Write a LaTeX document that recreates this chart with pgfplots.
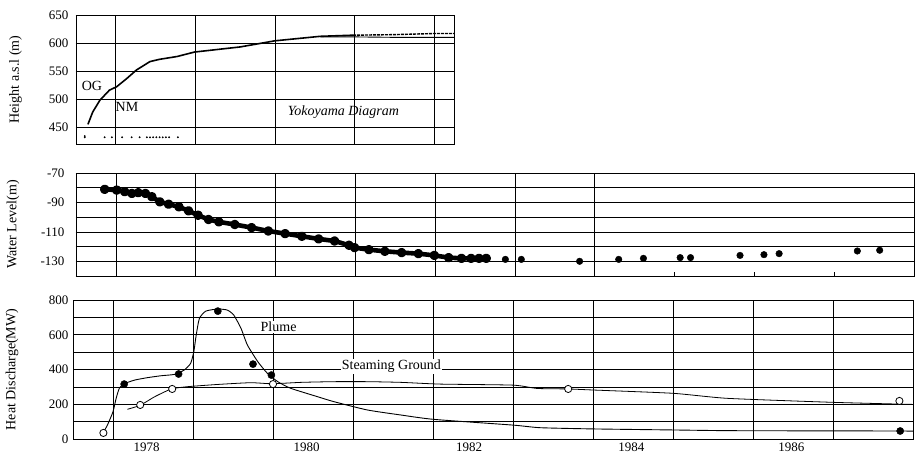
\documentclass[border=0pt]{standalone}
\usepackage{fontspec}
\setmainfont{Liberation Serif}
\usepackage{pgfplots}
\pgfplotsset{compat=1.18}

\pgfplotsset{
  myax/.style={
    scale only axis,
    anchor=north west,
    axis line style={line width=0.9pt},
    grid style={black, line width=0.6pt},
    minor grid style={black, line width=0.6pt},
    xtick pos=bottom, ytick pos=left,
    tick style={black, line width=0.6pt},
    minor x tick num=11,
    minor tick length=3pt,
    major tick length=4pt,
    tick label style={font=\fontsize{13}{15}\selectfont},
    /pgf/number format/assume math mode=true,
  },
  ylab/.style={every axis y label/.style={at={(axis description cs:#1,0.5)}, rotate=90, anchor=center, font=\fontsize{14}{16}\selectfont}},
}

\begin{document}
\begin{tikzpicture}
\useasboundingbox (0pt,0pt) rectangle (916pt,-459pt);

% ---------------- Top panel ----------------
\begin{axis}[myax, at={(76pt,-15pt)}, width=378pt, height=129pt,
  xmin=1977.5, xmax=1982.25, ymin=420, ymax=650,
  xtick={1978,...,1982}, xticklabels={},
  ytick={450,500,...,650},
  yticklabel style={xshift=-4pt},
  xmajorgrids, ymajorgrids,
  ylabel={Height a.s.l (m)}, ylab=-0.16,
]
% OG (upper, dashed at right)
\addplot[black, line width=1.6pt] coordinates {
(1977.65,455) (1977.71,477) (1977.80,498) (1977.92,516) (1978.01,522)
(1978.14,537) (1978.26,552) (1978.43,567) (1978.55,571) (1978.77,576)
(1978.99,584) (1979.56,593) (1980.00,604) (1980.57,612) (1980.98,614)};
\addplot[black, line width=1.4pt, dash pattern=on 3pt off 1pt] coordinates {
(1980.98,614) (1981.5,615) (1982.0,617) (1982.25,617)};
% NM (lower)
\addplot[black, line width=0.9pt] coordinates {
(1980.57,611) (1980.98,611) (1981.6,610) (1982.0,610) (1982.25,610)};
% sparse dots near bottom
\addplot[only marks, mark=*, mark size=0.7pt, black] coordinates {
(1977.61,432) (1977.61,434) (1977.86,432) (1977.95,432) (1978.08,432) (1978.20,432)
(1978.30,432) (1978.39,432) (1978.43,432) (1978.47,432) (1978.51,432) (1978.55,432)
(1978.59,432) (1978.63,432) (1978.67,432) (1978.78,432)};
\node[font=\fontsize{14}{16}\selectfont] at (axis cs:1977.70,523) {OG};
\node[font=\fontsize{14}{16}\selectfont] at (axis cs:1978.14,486) {NM};
\node[font=\fontsize{14}{16}\selectfont\itshape] at (axis cs:1980.86,477) {Yokoyama Diagram};
\end{axis}

% ---------------- Middle panel ----------------
\begin{axis}[myax, at={(76pt,-173pt)}, width=838pt, height=103pt,
  xmin=1977.5, xmax=1988, ymin=-140, ymax=-70,
  xtick={1978,...,1987}, xticklabels={},
  extra x ticks={1978,...,1984}, extra x tick labels={},
  extra x tick style={grid=major},
  ytick={-130,-110,-90,-70}, minor ytick={-140,-120,-100,-80},
  yticklabel style={xshift=-8pt},
  ymajorgrids, yminorgrids,
  ylabel={Water Level(m)}, ylab=-0.0752,
]
\addplot[black, line width=4.6pt, line join=round, line cap=round, mark=*, mark size=2.4pt] coordinates {
(1977.86,-81.1) (1978.01,-81.6) (1978.11,-82.7) (1978.20,-83.9) (1978.28,-83.4)
(1978.37,-83.9) (1978.45,-86.1) (1978.55,-89.6) (1978.66,-91.2) (1978.79,-93.0)
(1978.91,-95.7) (1979.03,-98.7) (1979.16,-101.6) (1979.29,-103.2) (1979.49,-105.0)
(1979.70,-107.1) (1979.91,-109.4) (1980.12,-111.2) (1980.33,-113.0) (1980.54,-114.8)
(1980.74,-116.2) (1980.92,-119.1) (1980.99,-120.7) (1981.17,-122.1) (1981.37,-123.2)
(1981.58,-124.1) (1981.79,-124.8) (1981.99,-126.0) (1982.17,-127.5) (1982.33,-128.0)
(1982.45,-128.0) (1982.55,-128.0) (1982.64,-128.0)};
\addplot[only marks, mark=*, mark size=3.3pt, black] coordinates {
(1982.88,-128.7) (1983.08,-128.7) (1983.81,-130.0) (1984.30,-128.7) (1984.61,-128.0)
(1985.07,-127.5) (1985.20,-127.5) (1985.82,-126.0) (1986.12,-125.5) (1986.31,-124.8)
(1987.29,-123.0) (1987.57,-122.5)};
\end{axis}

% ---------------- Bottom panel ----------------
\begin{axis}[myax, at={(73pt,-300pt)}, width=840pt, height=139pt,
  xmin=1977.5, xmax=1988, ymin=0, ymax=800,
  xtick={1978,...,1987}, xticklabels={},
  xmajorgrids, ymajorgrids, yminorgrids,
  extra x ticks={1978.42,1980.42,1982.45,1984.48,1986.48},
  extra x tick labels={1978,1980,1982,1984,1986},
  extra x tick style={grid=none, major tick length=0pt},
  ytick={0,200,...,800}, minor ytick={100,300,500,700},
  yticklabel style={xshift=-1pt},
  ylabel={Heat Discharge(MW)}, ylab=-0.0726,
]
% Plume curve
\addplot[black, line width=0.9pt, smooth, tension=0.35] coordinates {
(1977.875,35) (1977.93,80) (1978.00,157) (1978.04,235) (1978.08,293) (1978.14,318)
(1978.27,339) (1978.43,353) (1978.60,364) (1978.77,372) (1978.89,397) (1978.97,435)
(1979.01,502) (1979.04,598) (1979.08,694) (1979.16,736) (1979.31,748) (1979.43,742)
(1979.51,713) (1979.60,637) (1979.68,541) (1979.81,445) (1979.93,378) (1980.06,330)
(1980.22,292) (1980.56,243) (1980.76,215) (1981.18,167) (1981.60,138) (1982.01,113)
(1983.00,80) (1983.34,65) (1984.00,58) (1985.00,52) (1985.68,48) (1986.68,47)
(1987.84,46) (1988.0,45)};
% Steaming ground curve
\addplot[black, line width=0.8pt, smooth, tension=0.35] coordinates {
(1978.18,171) (1978.34,194) (1978.52,243) (1978.73,288) (1978.93,301) (1979.31,314)
(1979.72,324) (1979.99,318) (1980.35,326) (1980.76,330) (1981.18,330) (1981.60,326)
(1982.09,316) (1983.00,310) (1983.30,291) (1983.69,288) (1984.00,282) (1985.00,263)
(1985.68,234) (1987.00,211) (1988.0,199)};
% Plume (filled)
\addplot[only marks, mark=*, mark size=3.6pt, black] coordinates {
(1978.14,316) (1978.82,374) (1979.31,736) (1979.75,431) (1979.98,368) (1987.84,46)};
% Steaming ground (open)
\addplot[only marks, mark=*, mark size=3.6pt, black, fill=white, mark options={fill=white, line width=0.8pt}] coordinates {
(1977.88,35) (1978.34,196) (1978.74,288) (1980.00,316) (1983.69,288) (1987.83,219)};
\node[font=\fontsize{14}{16}\selectfont, fill=white, inner sep=1pt] at (axis cs:1980.07,645) {Plume};
\node[font=\fontsize{14}{16}\selectfont, fill=white, inner sep=1pt] at (axis cs:1981.48,418) {Steaming Ground};
\end{axis}
\end{tikzpicture}
\end{document}
